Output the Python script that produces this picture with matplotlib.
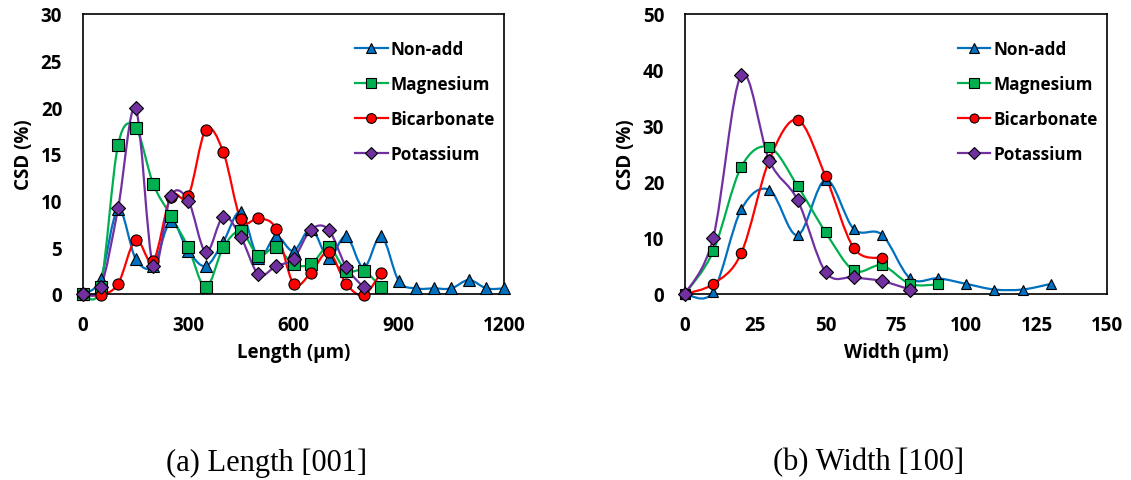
import numpy as np
import matplotlib
matplotlib.use('Agg')
import matplotlib.pyplot as plt
from matplotlib.path import Path
from matplotlib.patches import PathPatch
from matplotlib.lines import Line2D

# Length [001] data
len_x = [0, 50, 100, 150, 200, 250, 300, 350, 400, 450, 500, 550, 600, 650, 700, 750, 800, 850,
         900, 950, 1000, 1050, 1100, 1150, 1200]
len_nonadd = [0, 1.6, 9.1, 3.8, 3.0, 7.8, 4.6, 3.0, 5.6, 8.8, 3.9, 6.2, 4.6, 7.0, 3.9, 6.2, 2.8, 6.2,
              1.4, 0.6, 0.6, 0.6, 1.5, 0.6, 0.6]
len_mg = [0, 0.8, 16.0, 17.8, 11.8, 8.4, 5.0, 0.7, 5.0, 6.7, 4.1, 5.0, 3.2, 3.2, 5.0, 2.5, 2.5, 0.7]
len_bicarb = [0, -0.1, 1.1, 5.8, 3.5, 10.4, 10.5, 17.6, 15.2, 8.0, 8.1, 7.0, 1.1, 2.3, 4.5, 1.1, -0.1, 2.3]
len_k = [0, 0.7, 9.2, 19.9, 3.0, 10.5, 10.0, 4.5, 8.3, 6.1, 2.1, 3.0, 3.8, 6.9, 6.9, 2.9, 0.7]

# Width [100] data
wid_x = [0, 10, 20, 30, 40, 50, 60, 70, 80, 90, 100, 110, 120, 130]
wid_nonadd = [0, 0.4, 15.1, 18.6, 10.5, 20.4, 11.6, 10.6, 2.8, 2.8, 1.8, 0.8, 0.8, 1.8]
wid_mg = [0, 7.6, 22.7, 26.2, 19.3, 11.0, 4.2, 5.1, 1.8, 1.7]
wid_bicarb = [0, 1.8, 7.3, 24.0, 31.1, 21.0, 8.2, 6.4]
wid_k = [0, 10.0, 39.1, 23.8, 16.8, 3.9, 3.0, 2.3, 0.8]

names = ['Non-add', 'Magnesium', 'Bicarbonate', 'Potassium']
colors = ['#0070C0', '#00B050', '#FF0000', '#7030A0']
markers = ['^', 's', 'o', 'D']

plt.rcParams['font.family'] = ['Open Sans', 'DejaVu Sans']
plt.rcParams['font.weight'] = 'bold'


def smooth_path(xs, ys):
  # Excel style smoothed line: cubic bezier with catmull-rom control points
  pts = np.column_stack([xs, ys]).astype(float)
  n = len(pts)
  verts = [pts[0]]
  codes = [Path.MOVETO]
  for i in range(n - 1):
    p0 = pts[i - 1] if i > 0 else pts[i]
    p1 = pts[i]
    p2 = pts[i + 1]
    p3 = pts[i + 2] if i + 2 < n else pts[i + 1]
    verts += [p1 + (p2 - p0) / 6, p2 - (p3 - p1) / 6, p2]
    codes += [Path.CURVE4] * 3
  return Path(verts, codes)


def draw_panel(ax, xs, series, xmax, xstep, ymax, ystep, xlabel, ms):
  handles = []
  for ys, c, m, name in zip(series, colors, markers, names):
    x = xs[:len(ys)]
    patch = PathPatch(smooth_path(x, ys), facecolor='none', edgecolor=c, lw=1.6, clip_on=False, zorder=2)
    ax.add_patch(patch)
    ax.plot(x, ys, ls='none', marker=m, ms=ms if m != 'D' else ms - 0.8, mfc=c, mec='black', mew=0.8,
            clip_on=False, zorder=3)
    handles.append(Line2D([], [], color=c, lw=1.6, marker=m, ms=ms - 1 if m != 'D' else ms - 1.8,
                          mfc=c, mec='black', mew=0.8))
  ax.set_xlim(0, xmax)
  ax.set_ylim(0, ymax)
  ax.set_xticks(np.arange(0, xmax + 1, xstep))
  ax.set_yticks(np.arange(0, ymax + 1, ystep))
  ax.tick_params(length=0, labelsize=13.5, pad=15)
  for lab in ax.get_xticklabels() + ax.get_yticklabels():
    lab.set_fontweight('bold')
  for s in ax.spines.values():
    s.set_linewidth(1.2)
  ax.set_xlabel(xlabel, fontsize=13.5, fontweight='bold', labelpad=5)
  ax.set_ylabel('CSD (%)', fontsize=13.5, fontweight='bold', labelpad=5)
  ax.legend(handles, names, loc='upper left', bbox_to_anchor=(0.63, 0.93), frameon=False,
            prop={'size': 12.3, 'weight': 'bold'}, handlelength=1.9, handletextpad=0.2,
            labelspacing=0.98, borderaxespad=0)


fig = plt.figure(figsize=(11.31, 4.81), dpi=100)
ax1 = fig.add_axes([83 / 1131, 186 / 481, 421 / 1131, 280 / 481])
ax2 = fig.add_axes([685 / 1131, 186 / 481, 422 / 1131, 280 / 481])

draw_panel(ax1, len_x, [len_nonadd, len_mg, len_bicarb, len_k], 1200, 300, 30, 5, 'Length (µm)', 8)
draw_panel(ax2, wid_x, [wid_nonadd, wid_mg, wid_bicarb, wid_k], 150, 25, 50, 10, 'Width (µm)', 7.5)

fig.text(267 / 1131, 1 - 463 / 481, '(a) Length [001]', ha='center', va='center',
         family='Liberation Serif', fontweight='normal', fontsize=22)
fig.text(869 / 1131, 1 - 463 / 481, '(b) Width [100]', ha='center', va='center',
         family='Liberation Serif', fontweight='normal', fontsize=22)

fig.savefig('out.png', dpi=100)
